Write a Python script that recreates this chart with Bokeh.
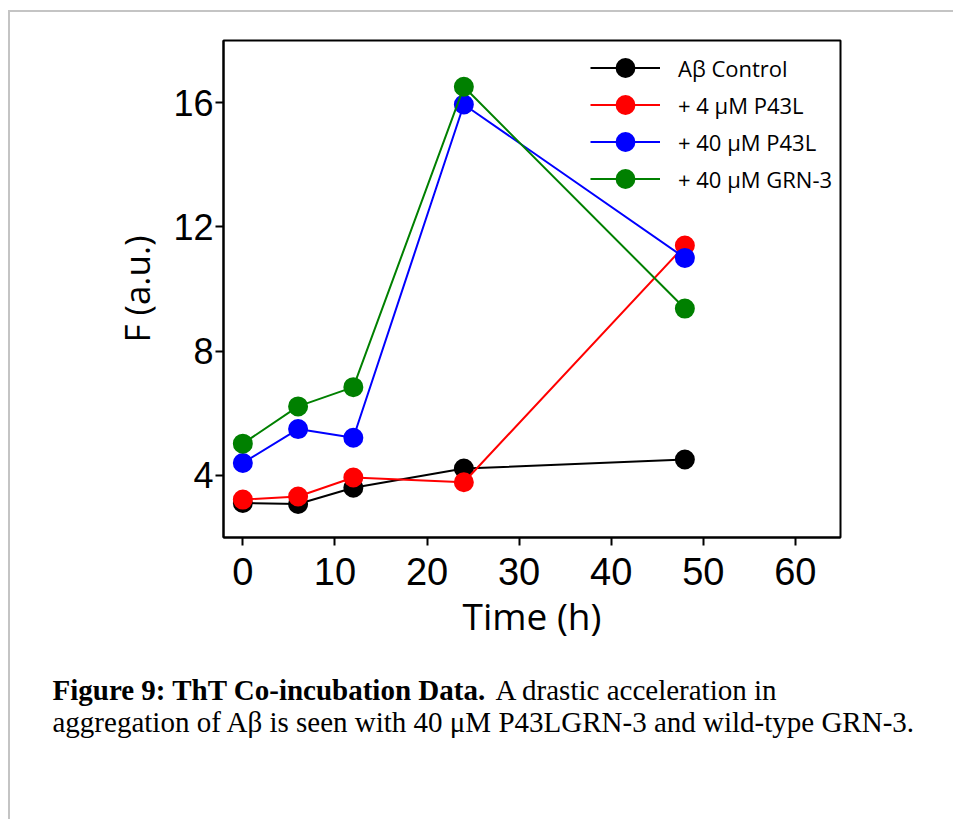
from bokeh.plotting import figure
from bokeh.layouts import column
from bokeh.models import Range1d, FixedTicker, Legend, LegendItem, Label
from bokeh.embed import file_html
from bokeh.resources import INLINE

# ---- data ----
time_h = [0, 6, 12, 24, 48]
ab_control = [3.11, 3.08, 3.60, 4.22, 4.51]
p43l_4um = [3.22, 3.32, 3.93, 3.78, 11.40]
p43l_40um = [4.40, 5.49, 5.21, 15.94, 11.00]
grn3_40um = [5.02, 6.22, 6.84, 16.51, 9.37]

series_names = ["A\u03b2 Control", "+ 4 \u03bcM P43L", "+ 40 \u03bcM P43L", "+ 40 \u03bcM GRN-3"]
series_values = [ab_control, p43l_4um, p43l_40um, grn3_40um]
series_colors = ["#000000", "#ff0000", "#0000ff", "#008000"]

x_ticks = [0, 10, 20, 30, 40, 50, 60]
y_ticks = [4, 8, 12, 16]

x_title = "Time (h)"
y_title = "F (a.u.)"
caption_bold = "Figure 9: ThT Co-incubation Data."
caption_rest1 = "A drastic acceleration in"
caption_line2 = "aggregation of A\u03b2 is seen with 40 \u03bcM P43LGRN-3 and wild-type GRN-3."

W = 943

# ---- main chart ----
p = figure(width=W, height=643,
           x_range=Range1d(-2.1, 64.9), y_range=Range1d(2.0, 18.0),
           output_backend="svg", toolbar_location=None,
           min_border_left=213, min_border_right=W - 213 - 617,
           min_border_top=28, min_border_bottom=118)
p.frame_align = False
p.background_fill_color = "white"
p.border_fill_color = "white"
p.grid.visible = False
p.outline_line_color = "black"
p.outline_line_width = 2
p.outline_line_alpha = 1

for ax, ticks in ((p.xaxis, x_ticks), (p.yaxis, y_ticks)):
    ax.ticker = FixedTicker(ticks=ticks)
    ax.axis_line_color = "black"
    ax.axis_line_width = 2
    ax.major_tick_line_color = "black"
    ax.major_tick_line_width = 2
    ax.major_tick_out = 8
    ax.major_tick_in = 0
    ax.minor_tick_out = 0
    ax.minor_tick_in = 0
    ax.major_label_text_font = "Liberation Sans"
    ax.major_label_text_color = "black"
    ax.axis_label_text_font = "Open Sans"
    ax.axis_label_text_font_style = "normal"
    ax.axis_label_text_color = "black"
p.xaxis.major_label_text_font_size = "38px"
p.yaxis.major_label_text_font_size = "36px"
p.xaxis.major_label_standoff = 12
p.yaxis.major_label_standoff = 2
p.xaxis.axis_label = x_title
p.yaxis.axis_label = y_title
p.xaxis.axis_label_text_font_size = "37px"
p.yaxis.axis_label_text_font_size = "35px"
p.xaxis.axis_label_standoff = 2
p.yaxis.axis_label_standoff = 10

items = []
for name, vals, col in zip(series_names, series_values, series_colors):
    lr = p.line(time_h, vals, line_color=col, line_width=2)
    sr = p.scatter(time_h, vals, size=15, fill_color=col, line_color=col, line_width=5)
    items.append(LegendItem(label=name, renderers=[lr, sr]))

legend = Legend(items=items, location=(367, 340), glyph_width=70, glyph_height=37,
                spacing=0, label_standoff=18, padding=0, margin=0,
                label_text_font="Open Sans", label_text_font_size="22px",
                label_text_color="black",
                background_fill_alpha=0, border_line_alpha=0)
p.add_layout(legend)

# ---- caption panel ----
cap_w, cap_h = W, 164
cap = figure(width=cap_w, height=cap_h, x_range=Range1d(0, cap_w), y_range=Range1d(cap_h, 0),
             output_backend="svg", toolbar_location=None,
             x_axis_type=None, y_axis_type=None,
             min_border_left=0, min_border_right=0, min_border_top=0, min_border_bottom=0)
cap.frame_align = False
cap.grid.visible = False
cap.outline_line_color = None
cap.background_fill_color = "white"
cap.border_fill_color = "white"

cap_font = "Liberation Serif"
cap.add_layout(Label(x=42, y=34, text=caption_bold, text_font=cap_font,
                     text_font_style="bold", text_font_size="29px",
                     text_baseline="alphabetic", text_color="black"))
cap.add_layout(Label(x=485, y=34, text=caption_rest1, text_font=cap_font,
                     text_font_size="29px", text_baseline="alphabetic", text_color="black"))
cap.add_layout(Label(x=42, y=66, text=caption_line2, text_font=cap_font,
                     text_font_size="29px", text_baseline="alphabetic", text_color="black"))

layout = column(p, cap, spacing=0,
                styles={"margin-left": "8px", "margin-top": "10px",
                        "border-left": "2px solid #c4c4c4",
                        "border-top": "2px solid #c4c4c4",
                        "background-color": "white"})

open("out.html", "w").write(file_html(layout, INLINE))
